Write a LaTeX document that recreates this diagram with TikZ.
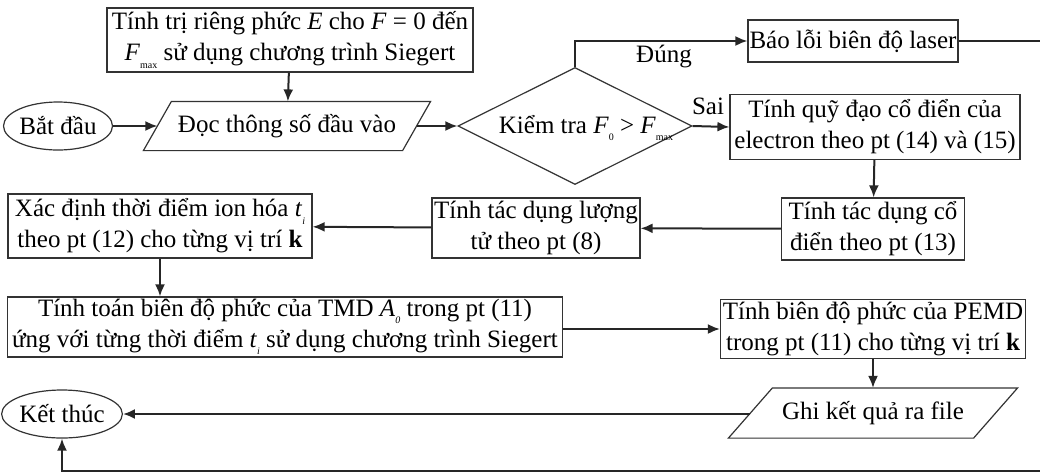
\documentclass[tikz,border=0pt]{standalone}
\usepackage{fontspec}
\setmainfont{Liberation Serif}
\usetikzlibrary{shapes.geometric,arrows.meta}
\newcommand\lowsub[1]{\raisebox{-0.3em}{\fontsize{10}{10}\selectfont #1}}
\begin{document}
\begin{tikzpicture}[x=1pt,y=-1pt,
  base/.style={draw=black!80, line width=1.2pt, align=center, inner sep=0pt,
    font=\fontsize{25}{31}\selectfont},
  box/.style={base, rectangle},
  term/.style={base, ellipse},
  io/.style={base, rectangle, draw=none},
  border/.style={draw=black!80, line width=1.2pt},
  decide/.style={base, diamond},
  lbl/.style={font=\fontsize{25}{31}\selectfont, inner sep=0pt},
  arr/.style={draw=black!85, line width=2pt, -{Latex[length=12pt,width=10pt]}}]
\useasboundingbox (0,0) rectangle (1040,472);

\node[box, minimum width=366, minimum height=64] (eig) at (290,40)
  {Tính trị riêng phức \textit{E} cho \textit{F} = 0 đến\\\textit{F}\lowsub{max} sử dụng chương trình Siegert};
\node[term, minimum width=103, minimum height=48] (start) at (58,126) {Bắt đầu};
\node[io, minimum width=258, minimum height=48] (read) at (287,126) {Đọc thông số đầu vào};
\node[decide, minimum width=234, minimum height=117] (chk) at (575,126) {};
\node[lbl] (chktxt) at (586,128) {Kiểm tra \textit{F}\lowsub{0} > \textit{F}\lowsub{max}};
\node[box, minimum width=210, minimum height=42] (err) at (853,41) {Báo lỗi biên độ laser};
\node[box, minimum width=290, minimum height=65] (traj) at (875,127)
  {Tính quỹ đạo cổ điển của\\electron theo pt (14) và (15)};
\node[box, minimum width=183, minimum height=62] (cls) at (873,229)
  {Tính tác dụng cổ\\điển theo pt (13)};
\node[box, minimum width=208, minimum height=60] (qnt) at (536,228)
  {Tính tác dụng lượng\\tử theo pt (8)};
\node[box, minimum width=304, minimum height=64] (ion) at (160,226)
  {Xác định thời điểm ion hóa \textit{t}\lowsub{\textit{i}}\\theo pt (12) cho từng vị trí \textbf{k}};
\node[box, minimum width=555, minimum height=60] (tmd) at (285,327)
  {Tính toán biên độ phức của TMD \textit{A}\lowsub{\textit{0}} trong pt (11)\\ứng với từng thời điểm \textit{t}\lowsub{\textit{i}} sử dụng chương trình Siegert};
\node[box, minimum width=305, minimum height=59] (pemd) at (873,329)
  {Tính biên độ phức của PEMD\\trong pt (11) cho từng vị trí \textbf{k}};
\node[io, minimum width=244, minimum height=49] (out) at (873,413) {Ghi kết quả ra file};
\node[term, minimum width=109, minimum height=48] (end) at (62,414) {Kết thúc};

\draw[border] ([xshift=-14pt]read.south west) -- ([xshift=14pt]read.north west)
  -- ([xshift=14pt]read.north east) -- ([xshift=-14pt]read.south east) -- cycle;
\draw[border] ([xshift=-22pt]out.south west) -- ([xshift=22pt]out.north west)
  -- ([xshift=22pt]out.north east) -- ([xshift=-22pt]out.south east) -- cycle;

\node[lbl] (yes) at (664,57) {Đúng};
\node[lbl] (no) at (708,106) {Sai};

\coordinate (br) at (1044,471);

\draw[arr] (eig) -- (read);
\draw[arr] (start) -- (read);
\draw[arr] (read) -- (chk);
\draw[arr] (chk.north) |- (err.west);
\draw[arr] (chk.east) -- (traj.west);
\draw[arr] (traj) -- (cls);
\draw[arr] (cls) -- (qnt);
\draw[arr] (qnt) -- (ion);
\draw[arr] (ion) -- (ion |- tmd.north);
\draw[arr] (tmd.east |- pemd) -- (pemd.west);
\draw[arr] (pemd) -- (out);
\draw[arr] (out.west |- end) -- (end.east);
\draw[arr] (err.east) -| (br) -| (end.south);
\end{tikzpicture}
\end{document}
